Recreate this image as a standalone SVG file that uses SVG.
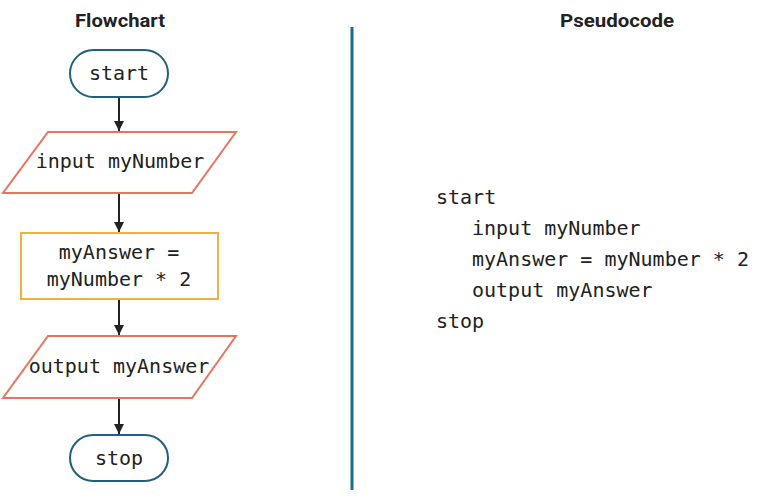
<svg xmlns="http://www.w3.org/2000/svg" width="772" height="499" viewBox="0 0 772 499">
<style>
.title{font-family:"Roboto","Liberation Sans",sans-serif;font-weight:bold;font-size:18px;fill:#222;text-anchor:middle}
.code{font-family:"DejaVu Sans Mono","Liberation Mono",monospace;font-size:20px;fill:#222}
.mid{text-anchor:middle}
.term{fill:#fff;stroke:#1f5f7f;stroke-width:2}
.io{fill:#fff;stroke:#e8735f;stroke-width:2}
.proc{fill:#fff;stroke:#f0b040;stroke-width:2}
.edge{stroke:#222;stroke-width:2;fill:none;marker-end:url(#ah)}
</style>
<defs>
<marker id="ah" viewBox="0 0 10 10" refX="10" refY="5" markerWidth="10" markerHeight="10" markerUnits="userSpaceOnUse" orient="auto">
<path d="M0,0 L10,5 L0,10 z" fill="#222"/>
</marker>
</defs>
<rect width="772" height="499" fill="#fff"/>
<text class="title" x="120" y="27" textLength="90" lengthAdjust="spacingAndGlyphs">Flowchart</text>
<text class="title" x="617" y="27" textLength="114" lengthAdjust="spacingAndGlyphs">Pseudocode</text>
<line x1="352" y1="27" x2="352" y2="490" stroke="#1a6a94" stroke-width="3"/>
<g id="connectors">
<line class="edge" x1="119" y1="97" x2="119" y2="131"/>
<line class="edge" x1="119" y1="193" x2="119" y2="232"/>
<line class="edge" x1="119" y1="299" x2="119" y2="335"/>
<line class="edge" x1="119" y1="398" x2="119" y2="434"/>
</g>
<g id="start">
<rect class="term" x="70" y="50" width="98" height="47" rx="23.5"/>
<text class="code mid" x="119" y="80">start</text>
</g>
<g id="input">
<polygon class="io" points="48,132 236,132 192,193 3,193"/>
<text class="code mid" x="120" y="168">input myNumber</text>
</g>
<g id="process">
<rect class="proc" x="21" y="233" width="197" height="66"/>
<text class="code mid" x="119" y="259">myAnswer =</text>
<text class="code mid" x="119" y="286">myNumber * 2</text>
</g>
<g id="output">
<polygon class="io" points="48,336 236,336 192,398 3,398"/>
<text class="code mid" x="119" y="373">output myAnswer</text>
</g>
<g id="stop">
<rect class="term" x="70" y="435" width="98" height="46" rx="23"/>
<text class="code mid" x="119" y="465">stop</text>
</g>
<g id="pseudocode">
<text class="code" x="436" y="204">start</text>
<text class="code" x="472" y="235">input myNumber</text>
<text class="code" x="472" y="266">myAnswer = myNumber * 2</text>
<text class="code" x="472" y="297">output myAnswer</text>
<text class="code" x="436" y="328">stop</text>
</g>
</svg>
